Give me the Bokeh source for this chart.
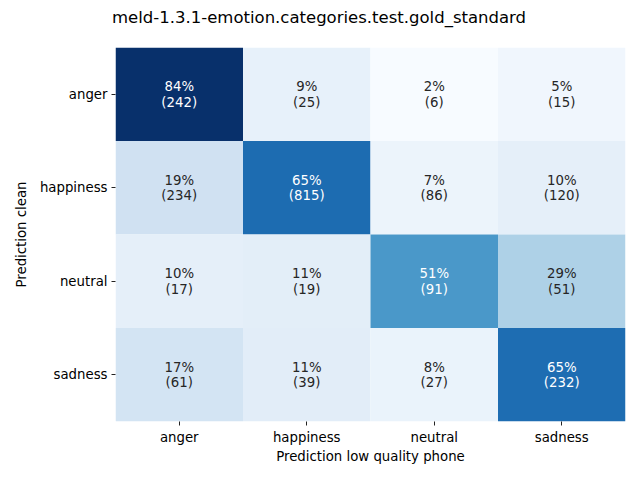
import numpy as np
from bokeh.plotting import figure
from bokeh.layouts import column
from bokeh.models import ColumnDataSource, LinearColorMapper, FactorRange, Div
from bokeh.transform import transform
from bokeh.core.properties import value
from bokeh.embed import file_html
from bokeh.resources import INLINE

title = "meld-1.3.1-emotion.categories.test.gold_standard"
x_label = "Prediction low quality phone"
y_label = "Prediction clean"
categories = ["anger", "happiness", "neutral", "sadness"]

# counts: rows = clean prediction, columns = low quality phone prediction
counts_anger = [242, 25, 6, 15]
counts_happiness = [234, 815, 86, 120]
counts_neutral = [17, 19, 91, 51]
counts_sadness = [61, 39, 27, 232]

rows = [counts_anger, counts_happiness, counts_neutral, counts_sadness]

blues9 = ["#f7fbff", "#deebf7", "#c6dbef", "#9ecae1", "#6baed6",
          "#4292c6", "#2171b5", "#08519c", "#08306b"]


def hex2rgb(h):
    return np.array([int(h[i:i + 2], 16) for i in (1, 3, 5)], dtype=float)


anchors = np.array([hex2rgb(c) for c in blues9])
pos = np.linspace(0, 1, 9)
t = np.linspace(0, 1, 256)
pal_rgb = np.stack([np.interp(t, pos, anchors[:, k]) for k in range(3)], axis=1)
palette = ["#%02x%02x%02x" % tuple(int(round(v)) for v in c) for c in pal_rgb]

xs, ys, pcts, top_txt, bot_txt = [], [], [], [], []
for r, cnts in zip(categories, rows):
    tot = sum(cnts)
    for c, n in zip(categories, cnts):
        xs.append(c)
        ys.append(r)
        p_ = 100.0 * n / tot
        pcts.append(p_)
        top_txt.append(f"{p_:.0f}%")
        bot_txt.append(f"({n})")

lo, hi = min(pcts), max(pcts)


def lum(rgb):
    rgb = rgb / 255.0
    rgb = np.where(rgb <= 0.03928, rgb / 12.92, ((rgb + 0.055) / 1.055) ** 2.4)
    return 0.2126 * rgb[0] + 0.7152 * rgb[1] + 0.0722 * rgb[2]


txt_col = []
for p_ in pcts:
    idx = int(np.clip((p_ - lo) / (hi - lo) * 255, 0, 255))
    txt_col.append("white" if lum(pal_rgb[idx]) <= 0.408 else "#262626")

src = ColumnDataSource(dict(x=xs, y=ys, pct=pcts, top=top_txt, bot=bot_txt, tc=txt_col))
mapper = LinearColorMapper(palette=palette, low=lo, high=hi)

fig = figure(width=640, height=433, output_backend="svg", toolbar_location=None,
             x_range=FactorRange(*categories), y_range=FactorRange(*categories[::-1]),
             min_border_left=115, min_border_right=15, min_border_top=0, min_border_bottom=59)

fig.rect(x="x", y="y", width=1, height=1, source=src,
         fill_color=transform("pct", mapper), line_color=None)

font = value("DejaVu Sans")
fig.text(x="x", y="y", text="top", source=src, text_font=font, text_font_size="13.3px",
         text_color="tc", text_align="center", text_baseline="middle", y_offset=-7.5)
fig.text(x="x", y="y", text="bot", source=src, text_font=font, text_font_size="13.3px",
         text_color="tc", text_align="center", text_baseline="middle", y_offset=8)

fig.outline_line_color = None
fig.grid.grid_line_color = None
for ax in (fig.xaxis, fig.yaxis):
    ax.axis_line_color = None
    ax.major_tick_in = 0
    ax.major_tick_out = 4
    ax.major_tick_line_color = "#222222"
    ax.minor_tick_line_color = None
    ax.major_label_text_font = "DejaVu Sans"
    ax.major_label_text_font_size = "13.3px"
    ax.major_label_text_color = "black"
    ax.axis_label_text_font = "DejaVu Sans"
    ax.axis_label_text_font_size = "13.3px"
    ax.axis_label_text_font_style = "normal"
    ax.axis_label_text_color = "black"
    ax.major_label_standoff = 4

fig.xaxis.axis_label = x_label
fig.yaxis.axis_label = y_label
fig.xaxis.axis_label_standoff = 1
fig.yaxis.axis_label_standoff = 8

title_div = Div(
    text=('<div style="padding:8px 0 0 112px;font-family:\'DejaVu Sans\';font-size:16.5px;'
          'line-height:1.2;color:black;white-space:nowrap">' + title + '</div>'),
    width=640, height=47, margin=(0, 0, 0, 0))

p = column(title_div, fig, spacing=0, margin=(0, 0, 0, 0))

open("out.html", "w").write(file_html(p, INLINE))
